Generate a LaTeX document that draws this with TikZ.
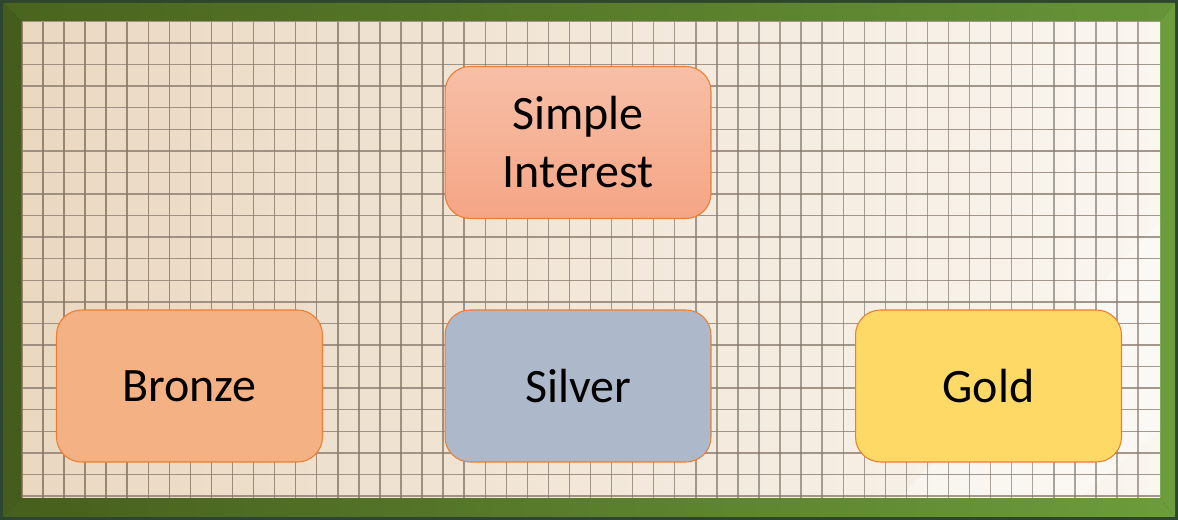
\documentclass[tikz,border=0pt]{standalone}
\usepackage{fontspec}
\setmainfont{Carlito}
\definecolor{boardleft}{RGB}{234,216,193}
\definecolor{boardright}{RGB}{250,246,240}
\definecolor{gridbrown}{RGB}{125,105,85}
\definecolor{gridgrey}{RGB}{150,146,142}
\definecolor{frameolive}{RGB}{74,100,30}
\definecolor{framegreen}{RGB}{108,156,60}
\definecolor{frameedge}{RGB}{46,70,48}
\definecolor{boxline}{RGB}{237,125,49}
\definecolor{simpletop}{RGB}{247,191,167}
\definecolor{simplebot}{RGB}{245,165,133}
\definecolor{bronzefill}{RGB}{244,177,131}
\definecolor{silverfill}{RGB}{173,185,202}
\definecolor{goldfill}{RGB}{255,217,102}
\tikzset{
  gridline/.style={line width=0.8pt, opacity=0.75},
  tierbox/.style={draw=boxline, line width=0.6pt, rounded corners=0.5cm,
    minimum width=5.32cm, minimum height=3.04cm, align=center,
    font=\fontsize{27.3}{33}\selectfont, text=black},
}
\begin{document}
\begin{tikzpicture}[x=0.02cm, y=-0.02cm]
\useasboundingbox (0,0) rectangle (1178,520);
% frame
\fill [frameedge] (0,0) rectangle (1178,520);
\shade [left color=frameolive, right color=framegreen!85!frameolive] (3,3) -- (1175,3) -- (1160,22) -- (22,22) -- cycle;
\fill [frameolive!92!black] (3,3) -- (22,22) -- (22,498) -- (3,517) -- cycle;
\shade [left color=frameolive!95!black, right color=framegreen] (3,517) -- (22,498) -- (1160,498) -- (1175,517) -- cycle;
\fill [framegreen] (1175,3) -- (1160,22) -- (1160,498) -- (1175,517) -- cycle;
% board
\shade [left color=boardleft, right color=boardright] (22,22) rectangle (1160,498);
\fill [white, opacity=0.35] (900,498) -- (1160,220) -- (1160,430) -- (1080,498) -- cycle;
\foreach \i in {0,...,53} {
  \pgfmathtruncatemacro\mix{100-80*\i/53}
  \draw [gridline, draw=gridbrown!\mix!gridgrey] ({21.9+21.06*\i},22) -- ({21.9+21.06*\i},498);
}
\foreach \j in {0,...,22}
  \draw [gridline, draw=gridbrown!60!gridgrey] (22,{21.4+21.57*\j}) -- (1160,{21.4+21.57*\j});
% tiers
\node (simple) at (578,142.5) [tierbox, top color=simpletop, bottom color=simplebot] {Simple\\Interest};
\node (bronze) at (189.5,386) [tierbox, fill=bronzefill] {Bronze};
\node (silver) at (578,386) [tierbox, fill=silverfill] {Silver};
\node (gold) at (988.5,386) [tierbox, fill=goldfill] {Gold};
\end{tikzpicture}
\end{document}
